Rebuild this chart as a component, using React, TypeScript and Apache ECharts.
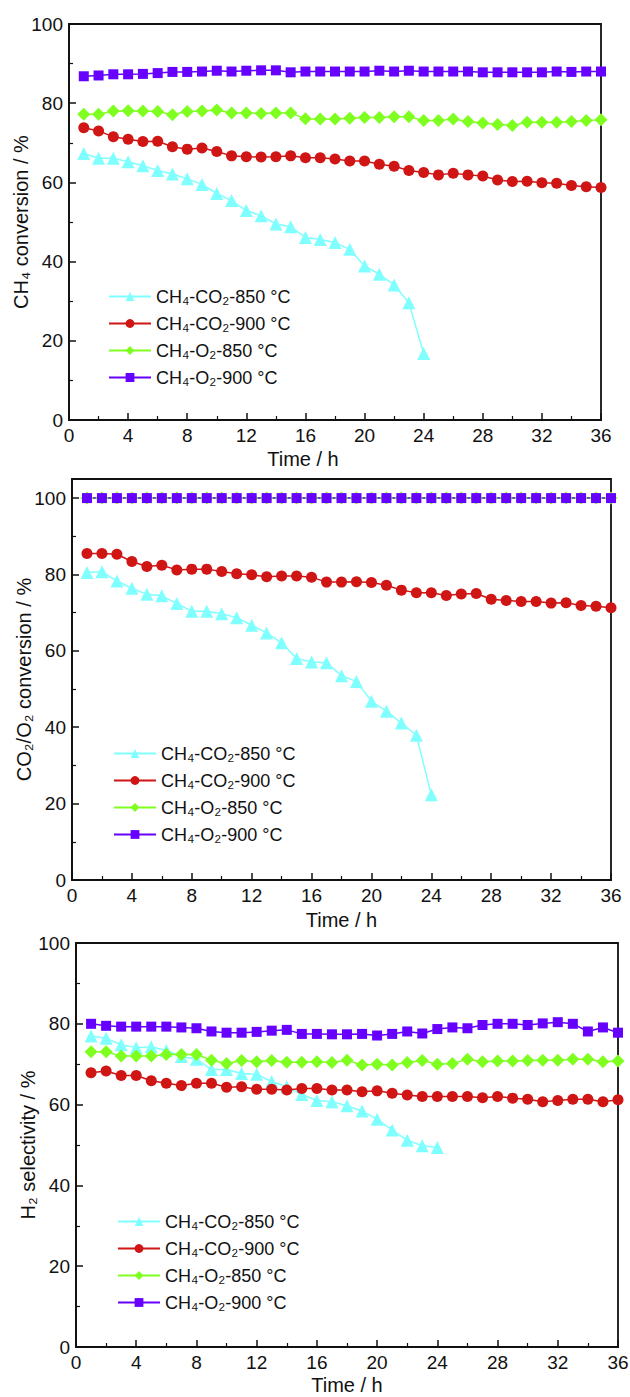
import React, { useEffect, useRef } from "react";
import * as echarts from "echarts";

const hours = [1, 2, 3, 4, 5, 6, 7, 8, 9, 10, 11, 12, 13, 14, 15, 16, 17, 18, 19, 20, 21, 22, 23, 24, 25, 26, 27, 28, 29, 30, 31, 32, 33, 34, 35, 36];
const xTicks = [0, 4, 8, 12, 16, 20, 24, 28, 32, 36];

const seriesNames = ["CH₄-CO₂-850 °C", "CH₄-CO₂-900 °C", "CH₄-O₂-850 °C", "CH₄-O₂-900 °C"];
const yAxisNames = ["CH₄ conversion / %", "CO₂/O₂ conversion / %", "H₂ selectivity / %"];
const xAxisName = "Time / h";

// Panel 1: CH4 conversion
const p1Co2850 = [67.3, 66.1, 66.1, 65.2, 64.2, 63.0, 62.1, 60.9, 59.5, 57.2, 55.4, 52.9, 51.6, 49.5, 48.8, 46.1, 45.6, 44.8, 43.1, 38.9, 36.8, 34.1, 29.6, 16.8];
const p1Co2900 = [73.8, 73.0, 71.5, 70.9, 70.3, 70.4, 69.0, 68.4, 68.7, 67.8, 66.7, 66.5, 66.4, 66.5, 66.7, 66.2, 66.2, 65.9, 65.4, 65.4, 64.6, 64.1, 63.0, 62.5, 61.9, 62.3, 61.9, 61.6, 60.6, 60.2, 60.3, 59.9, 59.8, 59.2, 58.9, 58.7];
const p1O2850 = [77.2, 77.2, 78.0, 78.1, 78.0, 77.9, 77.1, 77.9, 78.0, 78.3, 77.5, 77.5, 77.4, 77.5, 77.5, 76.1, 76.0, 76.0, 76.2, 76.4, 76.4, 76.6, 76.6, 75.6, 75.6, 76.0, 75.4, 75.0, 74.6, 74.4, 75.2, 75.2, 75.2, 75.4, 75.6, 75.8];
const p1O2900 = [86.8, 87.0, 87.3, 87.3, 87.4, 87.6, 87.9, 87.9, 88.0, 88.2, 88.0, 88.2, 88.3, 88.3, 87.8, 88.0, 88.0, 88.0, 88.0, 88.0, 88.2, 88.0, 88.2, 88.0, 88.0, 88.0, 88.0, 87.8, 87.8, 87.8, 87.8, 87.8, 88.0, 87.9, 88.0, 88.0];

// Panel 2: CO2/O2 conversion
const p2Co2850 = [80.5, 80.7, 78.3, 76.4, 74.8, 74.4, 72.4, 70.4, 70.4, 69.7, 68.7, 66.7, 64.7, 62.1, 58.0, 57.1, 56.9, 53.5, 52.0, 46.8, 44.2, 41.1, 37.9, 22.3];
const p2Co2900 = [85.5, 85.5, 85.3, 83.4, 82.1, 82.4, 81.2, 81.4, 81.4, 80.8, 80.2, 79.9, 79.4, 79.6, 79.6, 79.3, 78.0, 78.0, 78.1, 77.9, 77.2, 75.9, 75.2, 75.2, 74.5, 74.9, 75.0, 73.5, 73.2, 72.9, 72.9, 72.5, 72.6, 71.9, 71.7, 71.3];
const p2O2850 = [100, 100, 100, 100, 100, 100, 100, 100, 100, 100, 100, 100, 100, 100, 100, 100, 100, 100, 100, 100, 100, 100, 100, 100, 100, 100, 100, 100, 100, 100, 100, 100, 100, 100, 100, 100];
const p2O2900 = [100, 100, 100, 100, 100, 100, 100, 100, 100, 100, 100, 100, 100, 100, 100, 100, 100, 100, 100, 100, 100, 100, 100, 100, 100, 100, 100, 100, 100, 100, 100, 100, 100, 100, 100, 100];

// Panel 3: H2 selectivity
const p3Co2850 = [77.0, 76.4, 74.8, 74.1, 74.3, 73.4, 71.9, 71.2, 68.7, 68.7, 67.7, 67.5, 65.7, 64.4, 62.5, 61.0, 60.7, 59.7, 58.4, 56.4, 53.7, 51.2, 49.8, 49.4];
const p3Co2900 = [67.9, 68.3, 67.2, 67.2, 65.9, 65.3, 64.7, 65.3, 65.3, 64.3, 64.4, 63.8, 63.8, 63.6, 64.0, 64.0, 63.6, 63.6, 63.2, 63.4, 62.8, 62.4, 62.0, 62.0, 62.0, 62.0, 61.7, 62.0, 61.6, 61.3, 60.7, 61.0, 61.3, 61.3, 60.7, 61.2];
const p3O2850 = [73.1, 73.1, 72.0, 72.0, 72.0, 72.4, 72.4, 72.4, 71.0, 70.2, 70.9, 70.6, 70.9, 70.5, 70.5, 70.6, 70.4, 71.0, 69.8, 70.0, 69.8, 70.4, 70.9, 70.0, 70.2, 71.2, 70.6, 70.8, 70.8, 70.9, 71.0, 71.0, 71.2, 71.2, 70.6, 70.8];
const p3O2900 = [80.0, 79.5, 79.3, 79.3, 79.3, 79.3, 79.1, 78.9, 78.1, 77.8, 77.8, 78.0, 78.3, 78.5, 77.5, 77.5, 77.4, 77.4, 77.5, 77.1, 77.5, 78.1, 77.6, 78.7, 79.1, 78.9, 79.7, 80.0, 80.0, 79.7, 80.1, 80.4, 80.0, 78.1, 79.1, 77.8];

const colors = ["#80ffff", "#d01515", "#7fff1f", "#6600ff"];
const symbols = ["triangle", "circle", "diamond", "rect"];
const symbolSizes = [13, 11, 13, 10];

const FONT = "Liberation Sans, Arial, sans-serif";

const panels = [
  { data: [p1Co2850, p1Co2900, p1O2850, p1O2900], yMax: 100, xNameGap: 29, namePad: [0, 64, 0, 0], grid: { left: 69, right: 29, top: 24, height: 396 }, legend: { left: 108, top: 287 } },
  { data: [p2Co2850, p2Co2900, p2O2850, p2O2900], yMax: 105, xNameGap: 30, namePad: [0, 0, 0, 0], grid: { left: 72, right: 19, top: 479, height: 401 }, legend: { left: 113, top: 744 } },
  { data: [p3Co2850, p3Co2900, p3O2850, p3O2900], yMax: 100, xNameGap: 28, namePad: [0, 0, 0, 0], grid: { left: 76, right: 12, top: 943, height: 404 }, legend: { left: 117, top: 1212 } },
];

export default function App() {
  const ref = useRef<HTMLDivElement>(null);
  useEffect(() => {
    if (!ref.current) return;
    const chart = echarts.init(ref.current, undefined, { renderer: "svg" });
    const grids: any[] = [];
    const xAxes: any[] = [];
    const yAxes: any[] = [];
    const legends: any[] = [];
    const series: any[] = [];
    panels.forEach((p, gi) => {
      grids.push({
        ...p.grid,
        containLabel: false,
        outerBoundsMode: "none",
        show: true,
        borderColor: "#111",
        borderWidth: 1.8,
        backgroundColor: "transparent",
      });
      xAxes.push({
        type: "value",
        gridIndex: gi,
        min: xTicks[0],
        max: xTicks[xTicks.length - 1],
        interval: 4,
        name: xAxisName,
        nameLocation: "middle",
        nameGap: p.xNameGap,
        nameMoveOverlap: false,
        nameTextStyle: { fontSize: 20, color: "#111", fontFamily: FONT, padding: p.namePad },
        axisLine: { lineStyle: { color: "#111", width: 1.8 } },
        axisTick: { inside: true, length: 7, lineStyle: { color: "#111", width: 1.5 } },
        minorTick: { show: true, splitNumber: 2, length: 4, lineStyle: { color: "#111", width: 1.2 } },
        axisLabel: { fontSize: 19, color: "#111", fontFamily: FONT, margin: 6 },
        splitLine: { show: false },
      });
      yAxes.push({
        type: "value",
        gridIndex: gi,
        min: 0,
        max: p.yMax,
        interval: 20,
        name: yAxisNames[gi],
        nameLocation: "middle",
        nameGap: 38,
        nameMoveOverlap: false,
        nameTextStyle: { fontSize: 20, color: "#111", fontFamily: FONT },
        axisLine: { lineStyle: { color: "#111", width: 1.8 } },
        axisTick: { inside: true, length: 7, lineStyle: { color: "#111", width: 1.5 } },
        minorTick: { show: true, splitNumber: 2, length: 4, lineStyle: { color: "#111", width: 1.2 } },
        axisLabel: {
          fontSize: 19,
          color: "#111",
          fontFamily: FONT,
          margin: 6,
          formatter: (v: number) => (v % 20 === 0 ? String(v) : ""),
        },
        splitLine: { show: false },
      });
      legends.push({
        orient: "vertical",
        left: p.legend.left,
        top: p.legend.top,
        padding: 0,
        itemWidth: 42,
        itemHeight: 11,
        itemGap: 8,
        data: seriesNames,
        textStyle: { fontSize: 18, color: "#111", fontFamily: FONT, lineHeight: 19 },
      });
      p.data.forEach((vals, si) => {
        series.push({
          type: "line",
          name: seriesNames[si],
          xAxisIndex: gi,
          yAxisIndex: gi,
          data: vals.map((v, i) => [hours[i], v]),
          symbol: symbols[si],
          symbolSize: symbolSizes[si],
          itemStyle: { color: colors[si] },
          lineStyle: { color: colors[si], width: 1.5 },
          emphasis: { disabled: true },
        });
      });
    });
    chart.setOption({
      animation: false,
      backgroundColor: "#ffffff",
      textStyle: { fontFamily: FONT },
      grid: grids,
      xAxis: xAxes,
      yAxis: yAxes,
      legend: legends,
      series,
    });
    return () => chart.dispose();
  }, []);
  return (
    <div
      ref={ref}
      style={{ position: "absolute", left: 0, top: 0, width: 630, height: 1397, background: "#fff" }}
    />
  );
}
